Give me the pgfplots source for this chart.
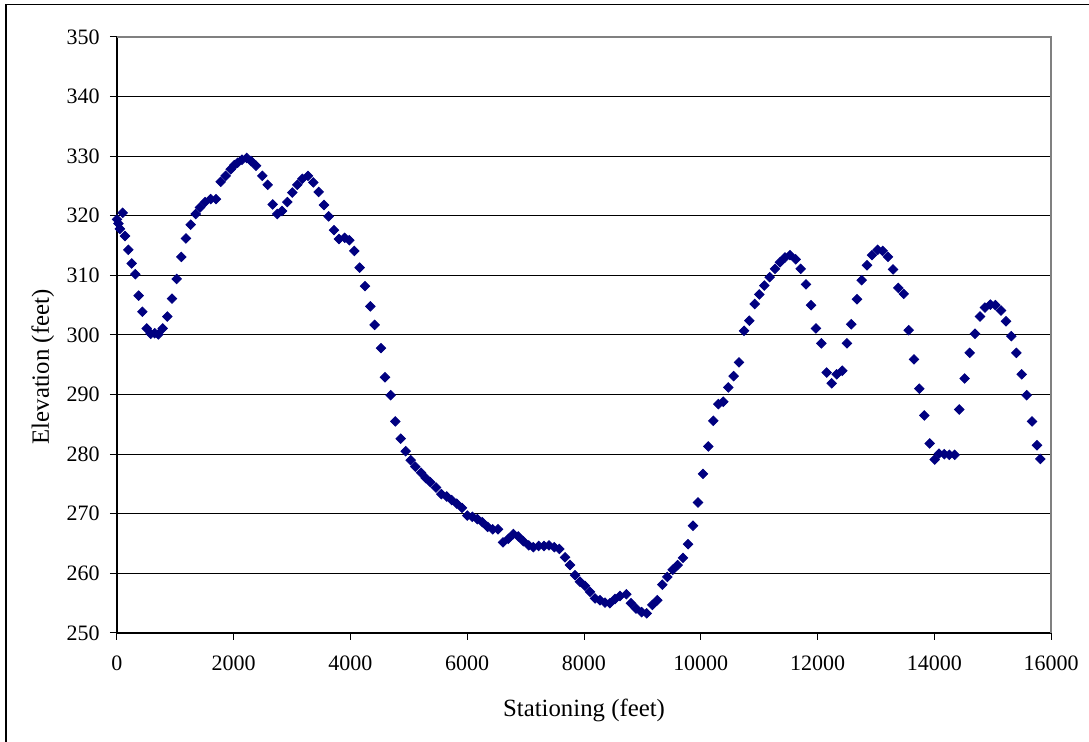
\documentclass[border=0pt]{standalone}
\usepackage{pgfplots}
\pgfplotsset{compat=1.18}
\usepackage{fontspec}
\setmainfont{Liberation Serif}
\definecolor{navy}{HTML}{000080}
\definecolor{pgray}{HTML}{808080}
\begin{document}
\begin{tikzpicture}
\useasboundingbox (0,0) rectangle (544.5pt,371pt);
\draw[line width=0.8pt] (3pt,0) -- (3pt,368.8pt) -- (544.5pt,368.8pt);
\begin{axis}[
  at={(58.5pt,54.5pt)}, anchor=south west,
  scale only axis, width=467pt, height=298pt,
  xmin=0, xmax=16000, ymin=250, ymax=350,
  xtick={0,2000,...,16000}, ytick={250,260,...,350},
  axis x line*=bottom, axis y line*=left,
  axis line style={-, line width=0.6pt, black},
  tick align=outside, major tick length=3.5pt,
  tick style={black, line width=0.5pt},
  ymajorgrids, major grid style={black, line width=0.5pt},
  scaled x ticks=false,
  /pgf/number format/1000 sep={},
  /pgf/number format/assume math mode=true,
  ticklabel style={font=\fontsize{11pt}{13pt}\selectfont},
  xticklabel style={anchor=north, inner sep=0pt, yshift=-7.5pt},
  yticklabel style={anchor=east, inner sep=0pt, xshift=-5pt},
  xlabel={Stationing (feet)},
  ylabel={Elevation (feet)},
  label style={font=\fontsize{12.4pt}{14pt}\selectfont},
  xlabel style={at={(axis description cs:0.5,0)}, anchor=base, inner sep=0pt, yshift=-42pt},
  ylabel style={at={(axis description cs:0,0.4463)}, anchor=base, inner sep=0pt, yshift=34pt},
  clip=false,
]
\addplot[only marks, mark=square*, mark size=1.68pt, mark options={rotate=45, fill=navy, draw=navy}, color=navy] table {
x y
0 319.4
25 318.7
50 317.8
97 320.5
137 316.6
194 314.3
251 312.0
314 310.2
371 306.6
434 303.9
508 301.1
577 300.2
645 300.3
708 300.1
782 301.1
862 303.1
942 306.1
1022 309.4
1102 313.1
1182 316.2
1262 318.5
1348 320.3
1422 321.4
1508 322.3
1605 322.8
1696 322.8
1776 325.7
1862 326.7
1948 327.8
2010 328.5
2067 328.9
2141 329.4
2222 329.7
2295 329.2
2381 328.4
2489 326.7
2581 325.2
2667 321.9
2746 320.3
2827 320.8
2918 322.3
3003 323.9
3089 325.2
3175 326.2
3272 326.7
3363 325.6
3455 324.0
3546 321.8
3626 319.9
3717 317.6
3803 316.1
3900 316.3
3980 315.9
4065 314.1
4157 311.3
4248 308.2
4340 304.8
4414 301.7
4523 297.8
4591 292.9
4688 289.9
4768 285.5
4860 282.6
4945 280.5
5031 279.0
5110 277.9
5208 276.9
5288 276.0
5368 275.3
5465 274.4
5556 273.3
5648 272.9
5734 272.3
5820 271.7
5910 271.0
6001 269.7
6087 269.5
6173 269.1
6258 268.6
6350 267.8
6436 267.4
6527 267.4
6612 265.2
6704 265.8
6790 266.6
6875 266.2
6961 265.4
7053 264.7
7132 264.4
7224 264.6
7315 264.6
7401 264.7
7492 264.4
7577 264.1
7675 262.7
7760 261.4
7846 259.7
7932 258.6
8017 257.9
8103 256.9
8189 255.8
8274 255.5
8360 255.1
8445 255.0
8531 255.7
8617 256.2
8725 256.5
8805 255.0
8891 254.1
8988 253.5
9074 253.3
9170 254.7
9256 255.5
9341 258.1
9427 259.4
9519 260.6
9605 261.4
9696 262.6
9782 264.9
9867 268.0
9953 271.9
10039 276.7
10130 281.3
10215 285.6
10301 288.4
10386 288.8
10472 291.2
10564 293.1
10655 295.4
10741 300.7
10832 302.4
10924 305.2
11003 306.8
11089 308.3
11181 309.7
11272 311.1
11358 312.2
11443 313.0
11529 313.4
11626 312.7
11712 311.1
11803 308.5
11889 305.0
11974 301.1
12066 298.6
12157 293.7
12243 291.9
12329 293.4
12425 294.0
12505 298.6
12579 301.8
12677 306.0
12757 309.2
12848 311.7
12934 313.4
13031 314.3
13117 314.1
13208 313.1
13294 311.0
13384 307.9
13477 306.9
13562 300.8
13653 295.9
13744 291.0
13830 286.5
13922 281.8
14007 279.1
14081 280.1
14172 280.0
14258 279.9
14350 279.9
14429 287.5
14521 292.7
14607 297.0
14698 300.2
14784 303.1
14869 304.6
14961 305.1
15047 305.0
15144 304.1
15229 302.3
15320 299.8
15406 297.0
15498 293.4
15584 289.9
15675 285.5
15760 281.5
15817 279.2
};
\draw[pgray, line width=0.75pt] (rel axis cs:0,1) -- (rel axis cs:1,1) -- (rel axis cs:1,0);
\end{axis}
\end{tikzpicture}
\end{document}
